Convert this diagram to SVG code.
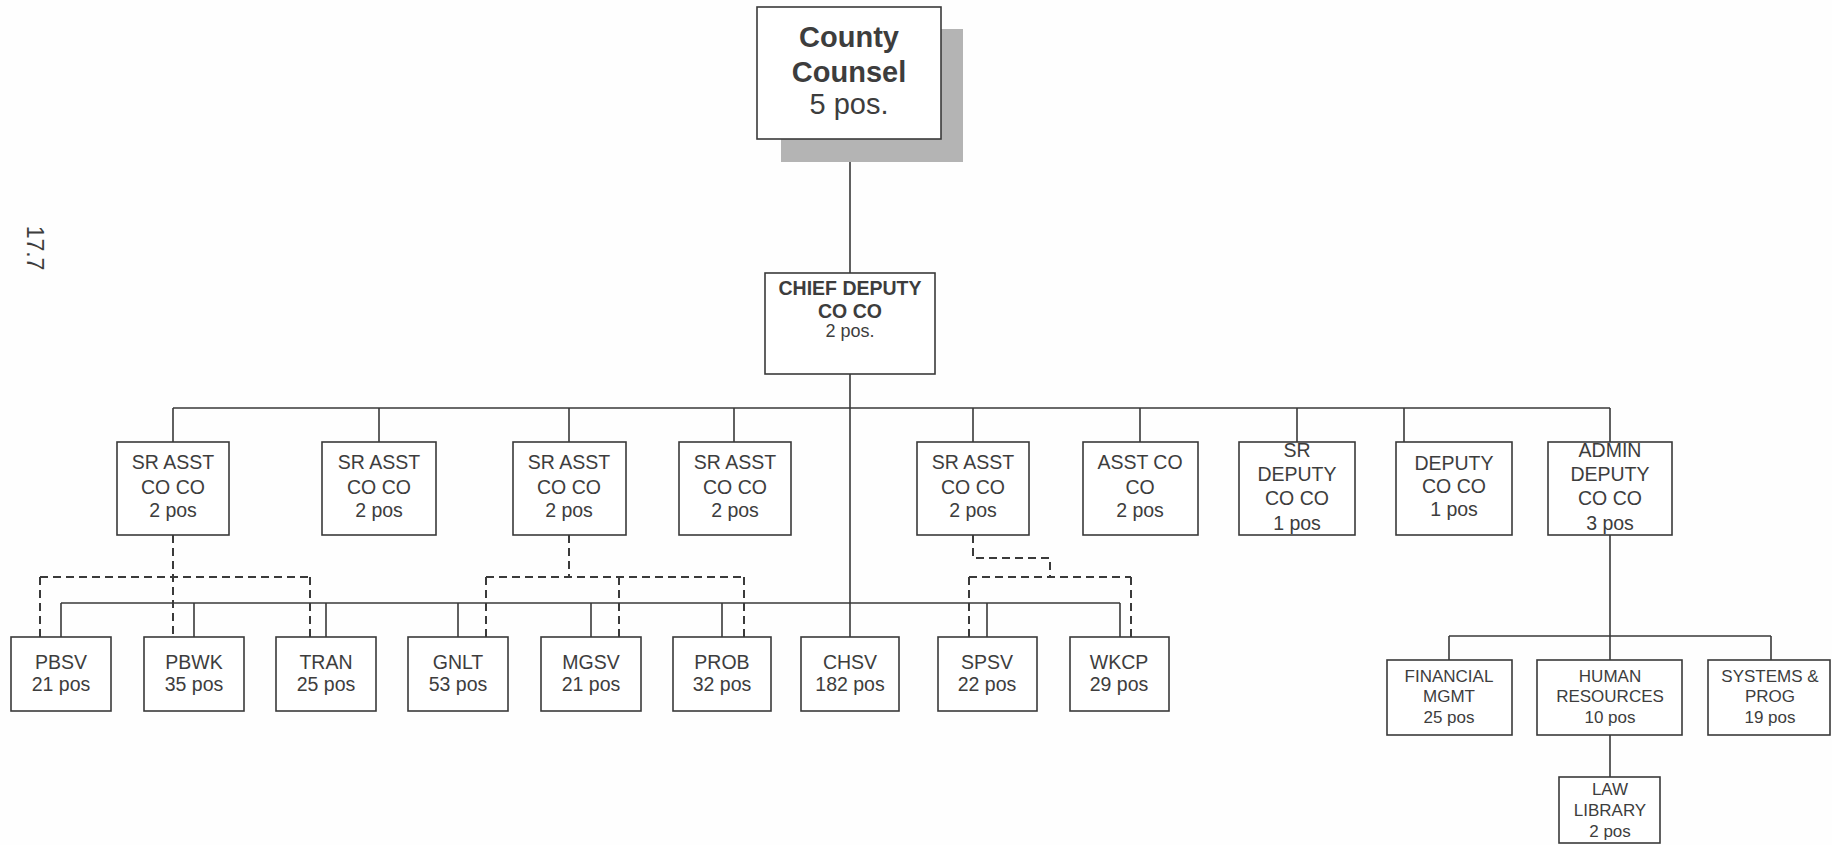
<svg xmlns="http://www.w3.org/2000/svg" width="1832" height="845" viewBox="0 0 1832 845">
  <style>
    .box { fill: #ffffff; stroke: #3a3a3a; stroke-width: 1.6; }
    .shadow { fill: #b4b4b4; }
    .ln { fill: none; stroke: #3a3a3a; stroke-width: 1.6; }
    .dash { fill: none; stroke: #3a3a3a; stroke-width: 2; stroke-dasharray: 8 5; }
    text { font-family: "Liberation Sans", Arial, sans-serif; fill: #3d3d3d; text-anchor: middle; }
    .t1 { font-size: 29px; font-weight: bold; }
    .t1r { font-size: 29px; }
    .t2 { font-size: 19.5px; font-weight: bold; }
    .t2r { font-size: 18px; }
    .t3 { font-size: 19.5px; }
    .t4 { font-size: 17px; }
    .pg { font-size: 23px; }
  </style>
  <rect width="1832" height="845" fill="#fefefe"/>

  <!-- page number, printed sideways -->
  <text class="pg" x="0" y="0" transform="translate(27 248) rotate(90)">17.7</text>

  <!-- connectors -->
  <g id="connectors">
    <!-- top spine -->
    <path class="ln" d="M850 139V273M850 374V637"/>
    <!-- second-level bus and drops -->
    <path class="ln" d="M173 408H1610M173 408V442M379 408V442M569 408V442M734 408V442M973 408V442M1140 408V442M1297 408V442M1404 408V442M1610 408V442"/>
    <!-- third-level bus and drops -->
    <path class="ln" d="M61 603H1120M61 603V637M194 603V637M326 603V637M458 603V637M591 603V637M722 603V637M987 603V637M1120 603V637"/>
    <!-- admin branch -->
    <path class="ln" d="M1610 535V660M1449 636H1771M1449 636V660M1771 636V660M1610 735V777"/>
    <!-- dotted-line reporting -->
    <path class="dash" d="M173 535V637M40 577H310M40 577V637M310 577V637"/>
    <path class="dash" d="M569 535V577M486 577H744M486 577V637M619 577V637M744 577V637"/>
    <path class="dash" d="M973 535V558H1050V577M969 577H1131M969 577V637M1131 577V637"/>
  </g>

  <g id="county-counsel">
    <rect class="shadow" x="781" y="29" width="182" height="133"/>
    <rect class="box" x="757" y="7" width="184" height="132"/>
    <text class="t1" x="849" y="47">County</text>
    <text class="t1" x="849" y="82">Counsel</text>
    <text class="t1r" x="849" y="114">5 pos.</text>
  </g>

  <g id="chief-deputy">
    <rect class="box" x="765" y="273" width="170" height="101"/>
    <text class="t2" x="850" y="295">CHIEF DEPUTY</text>
    <text class="t2" x="850" y="318">CO CO</text>
    <text class="t2r" x="850" y="337">2 pos.</text>
  </g>

  <!-- second level -->
  <g id="sr-asst-1">
    <rect class="box" x="117" y="442" width="112" height="93"/>
    <text class="t3" x="173" y="469">SR ASST</text>
    <text class="t3" x="173" y="494">CO CO</text>
    <text class="t3" x="173" y="517">2 pos</text>
  </g>
  <g id="sr-asst-2">
    <rect class="box" x="322" y="442" width="114" height="93"/>
    <text class="t3" x="379" y="469">SR ASST</text>
    <text class="t3" x="379" y="494">CO CO</text>
    <text class="t3" x="379" y="517">2 pos</text>
  </g>
  <g id="sr-asst-3">
    <rect class="box" x="513" y="442" width="113" height="93"/>
    <text class="t3" x="569" y="469">SR ASST</text>
    <text class="t3" x="569" y="494">CO CO</text>
    <text class="t3" x="569" y="517">2 pos</text>
  </g>
  <g id="sr-asst-4">
    <rect class="box" x="679" y="442" width="112" height="93"/>
    <text class="t3" x="735" y="469">SR ASST</text>
    <text class="t3" x="735" y="494">CO CO</text>
    <text class="t3" x="735" y="517">2 pos</text>
  </g>
  <g id="sr-asst-5">
    <rect class="box" x="917" y="442" width="112" height="93"/>
    <text class="t3" x="973" y="469">SR ASST</text>
    <text class="t3" x="973" y="494">CO CO</text>
    <text class="t3" x="973" y="517">2 pos</text>
  </g>
  <g id="asst-co-co">
    <rect class="box" x="1083" y="442" width="115" height="93"/>
    <text class="t3" x="1140" y="469">ASST CO</text>
    <text class="t3" x="1140" y="494">CO</text>
    <text class="t3" x="1140" y="517">2 pos</text>
  </g>
  <g id="sr-deputy">
    <rect class="box" x="1239" y="442" width="116" height="93"/>
    <text class="t3" x="1297" y="457">SR</text>
    <text class="t3" x="1297" y="481">DEPUTY</text>
    <text class="t3" x="1297" y="505">CO CO</text>
    <text class="t3" x="1297" y="530">1 pos</text>
  </g>
  <g id="deputy">
    <rect class="box" x="1396" y="442" width="116" height="93"/>
    <text class="t3" x="1454" y="470">DEPUTY</text>
    <text class="t3" x="1454" y="493">CO CO</text>
    <text class="t3" x="1454" y="516">1 pos</text>
  </g>
  <g id="admin-deputy">
    <rect class="box" x="1548" y="442" width="124" height="93"/>
    <text class="t3" x="1610" y="457">ADMIN</text>
    <text class="t3" x="1610" y="481">DEPUTY</text>
    <text class="t3" x="1610" y="505">CO CO</text>
    <text class="t3" x="1610" y="530">3 pos</text>
  </g>

  <!-- third level -->
  <g id="pbsv">
    <rect class="box" x="11" y="637" width="100" height="74"/>
    <text class="t3" x="61" y="669">PBSV</text>
    <text class="t3" x="61" y="691">21 pos</text>
  </g>
  <g id="pbwk">
    <rect class="box" x="144" y="637" width="100" height="74"/>
    <text class="t3" x="194" y="669">PBWK</text>
    <text class="t3" x="194" y="691">35 pos</text>
  </g>
  <g id="tran">
    <rect class="box" x="276" y="637" width="100" height="74"/>
    <text class="t3" x="326" y="669">TRAN</text>
    <text class="t3" x="326" y="691">25 pos</text>
  </g>
  <g id="gnlt">
    <rect class="box" x="408" y="637" width="100" height="74"/>
    <text class="t3" x="458" y="669">GNLT</text>
    <text class="t3" x="458" y="691">53 pos</text>
  </g>
  <g id="mgsv">
    <rect class="box" x="541" y="637" width="100" height="74"/>
    <text class="t3" x="591" y="669">MGSV</text>
    <text class="t3" x="591" y="691">21 pos</text>
  </g>
  <g id="prob">
    <rect class="box" x="673" y="637" width="98" height="74"/>
    <text class="t3" x="722" y="669">PROB</text>
    <text class="t3" x="722" y="691">32 pos</text>
  </g>
  <g id="chsv">
    <rect class="box" x="801" y="637" width="98" height="74"/>
    <text class="t3" x="850" y="669">CHSV</text>
    <text class="t3" x="850" y="691">182 pos</text>
  </g>
  <g id="spsv">
    <rect class="box" x="938" y="637" width="99" height="74"/>
    <text class="t3" x="987" y="669">SPSV</text>
    <text class="t3" x="987" y="691">22 pos</text>
  </g>
  <g id="wkcp">
    <rect class="box" x="1070" y="637" width="99" height="74"/>
    <text class="t3" x="1119" y="669">WKCP</text>
    <text class="t3" x="1119" y="691">29 pos</text>
  </g>

  <!-- admin units -->
  <g id="financial-mgmt">
    <rect class="box" x="1387" y="660" width="125" height="75"/>
    <text class="t4" x="1449" y="682">FINANCIAL</text>
    <text class="t4" x="1449" y="702">MGMT</text>
    <text class="t4" x="1449" y="723">25 pos</text>
  </g>
  <g id="human-resources">
    <rect class="box" x="1537" y="660" width="145" height="75"/>
    <text class="t4" x="1610" y="682">HUMAN</text>
    <text class="t4" x="1610" y="702">RESOURCES</text>
    <text class="t4" x="1610" y="723">10 pos</text>
  </g>
  <g id="systems-prog">
    <rect class="box" x="1708" y="660" width="122" height="75"/>
    <text class="t4" x="1770" y="682">SYSTEMS &amp;</text>
    <text class="t4" x="1770" y="702">PROG</text>
    <text class="t4" x="1770" y="723">19 pos</text>
  </g>
  <g id="law-library">
    <rect class="box" x="1559" y="777" width="101" height="66"/>
    <text class="t4" x="1610" y="795">LAW</text>
    <text class="t4" x="1610" y="816">LIBRARY</text>
    <text class="t4" x="1610" y="837">2 pos</text>
  </g>
</svg>
